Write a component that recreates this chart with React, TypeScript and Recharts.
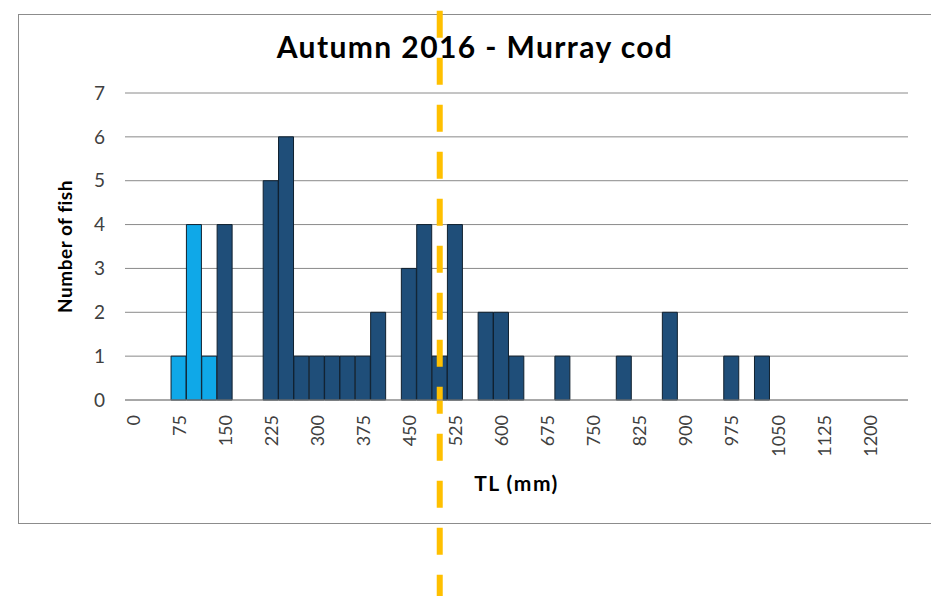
import { BarChart, Bar, XAxis, YAxis, CartesianGrid, ReferenceLine, Label } from 'recharts'

// 25 mm length classes
const lengthClasses = [
  '0', '25', '50', '75', '100', '125', '150', '175', '200', '225',
  '250', '275', '300', '325', '350', '375', '400', '425', '450', '475',
  '500', '525', '550', '575', '600', '625', '650', '675', '700', '725',
  '750', '775', '800', '825', '850', '875', '900', '925', '950', '975',
  '1000', '1025', '1050', '1075', '1100', '1125', '1150', '1175', '1200', '1225',
  '1250',
]

// young-of-year (light blue)
const yoyCounts = [
  0, 0, 0, 1, 4, 1, 0, 0, 0, 0,
  0, 0, 0, 0, 0, 0, 0, 0, 0, 0,
  0, 0, 0, 0, 0, 0, 0, 0, 0, 0,
  0, 0, 0, 0, 0, 0, 0, 0, 0, 0,
  0, 0, 0, 0, 0, 0, 0, 0, 0, 0,
  0,
]

// older fish (dark blue)
const olderCounts = [
  0, 0, 0, 0, 0, 0, 4, 0, 0, 5,
  6, 1, 1, 1, 1, 1, 2, 0, 3, 4,
  1, 4, 0, 2, 2, 1, 0, 0, 1, 0,
  0, 0, 1, 0, 0, 2, 0, 0, 0, 1,
  0, 1, 0, 0, 0, 0, 0, 0, 0, 0,
  0,
]

const yTicks = [0, 1, 2, 3, 4, 5, 6, 7]
const cutoffLength = '500'

const data = lengthClasses.map((tl, i) => ({ tl, yoy: yoyCounts[i], older: olderCounts[i] }))

const FONT = 'Lato, "Open Sans", sans-serif'

function RotatedTick(props: any) {
  const { x, y, payload } = props
  return (
    <text
      x={x}
      y={y}
      transform={`rotate(-90, ${x}, ${y})`}
      textAnchor="end"
      dominantBaseline="central"
      fontFamily={FONT}
      fontSize={18}
      fill="#404040"
    >
      {payload.value}
    </text>
  )
}

export default function App() {
  return (
    <div style={{ position: 'absolute', left: 0, top: 0, width: 931, height: 596, overflow: 'hidden', background: '#fff' }}>
      <div
        style={{
          position: 'absolute',
          left: 18,
          top: 14,
          width: 940,
          height: 508,
          border: '1px solid #8c8c8c',
        }}
      />
      <div
        style={{
          position: 'absolute',
          left: 0,
          width: 950,
          top: 28,
          textAlign: 'center',
          fontFamily: FONT,
          fontWeight: 700,
          fontSize: 30,
          letterSpacing: 1.4,
          color: '#000',
        }}
      >
        Autumn 2016 - Murray cod
      </div>
      <BarChart
        width={931}
        height={596}
        data={data}
        barCategoryGap={0}
        margin={{ top: 93, right: 23, bottom: 96, left: 55 }}
        style={{ position: 'absolute', left: 0, top: 0 }}
      >
        <CartesianGrid vertical={false} stroke="#8a8a8a" />
        <XAxis
          dataKey="tl"
          interval={2}
          tick={<RotatedTick />}
          tickLine={false}
          tickSize={0}
          tickMargin={15}
          axisLine={{ stroke: '#8a8a8a' }}
          height={100}
        >
          <Label
            value="TL (mm)"
            position="insideBottom"
            offset={9}
            style={{ fontFamily: FONT, fontWeight: 700, fontSize: 21, letterSpacing: 1.5, fill: '#000' }}
          />
        </XAxis>
        <YAxis
          domain={[0, 7]}
          ticks={yTicks}
          interval={0}
          axisLine={false}
          tickLine={false}
          tickSize={0}
          tickMargin={20}
          width={70}
          tick={{ fontFamily: FONT, fontSize: 19, fill: '#404040' }}
        >
          <Label
            value="Number of fish"
            angle={-90}
            position="insideLeft"
            offset={10}
            style={{ textAnchor: 'middle', fontFamily: FONT, fontWeight: 700, fontSize: 19, letterSpacing: 0.5, fill: '#000' }}
          />
        </YAxis>
        <Bar dataKey="yoy" stackId="a" fill="#0fa8e8" stroke="#10202f" strokeWidth={1} isAnimationActive={false} />
        <Bar dataKey="older" stackId="a" fill="#1f4e79" stroke="#10202f" strokeWidth={1} isAnimationActive={false} />
        <ReferenceLine
          segment={[{ x: cutoffLength, y: -4.6 }, { x: cutoffLength, y: 8.9 }]}
          ifOverflow="visible"
          stroke="#ffc000"
          strokeWidth={6}
          strokeDasharray="27 20"
        />
      </BarChart>
    </div>
  )
}
